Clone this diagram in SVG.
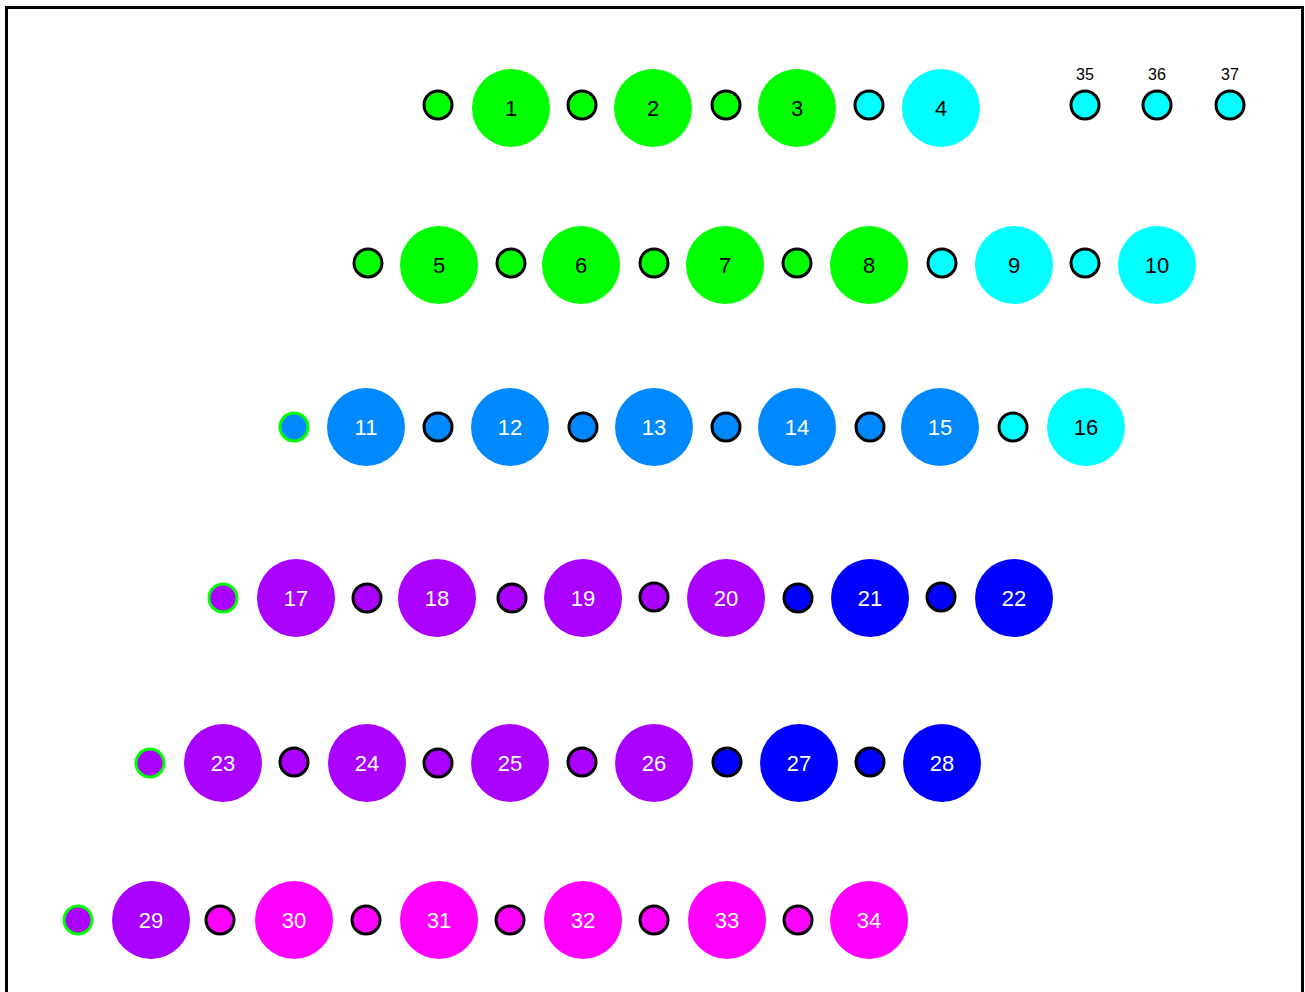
<svg xmlns="http://www.w3.org/2000/svg" width="1305" height="992" viewBox="0 0 1305 992">
<style>
.big{stroke:none}
.sm{stroke:#000;stroke-width:3}
.smg{stroke:#00ff00;stroke-width:3}
.g{fill:#00ff00}.c{fill:#00ffff}.b{fill:#0088ff}.p{fill:#aa00ff}.d{fill:#0000ff}.m{fill:#ff00ff}
text{font-family:"Liberation Sans",Arial,sans-serif;font-size:22px;text-anchor:middle;dominant-baseline:central}
.tw{fill:#fff}.tk{fill:#000}
.lbl{font-size:16px;fill:#000}
</style>
<rect x="6.5" y="7.5" width="1296" height="992" fill="#fff" stroke="#000" stroke-width="3"/>
<g id="connectors"></g>
<g id="row1">
<circle class="sm g" cx="438" cy="105" r="14"/>
<g id="n1"><circle class="big g" cx="511" cy="108" r="39"/><text class="tk" x="511" y="108">1</text></g>
<circle class="sm g" cx="582" cy="105" r="14"/>
<g id="n2"><circle class="big g" cx="653" cy="108" r="39"/><text class="tk" x="653" y="108">2</text></g>
<circle class="sm g" cx="726" cy="105" r="14"/>
<g id="n3"><circle class="big g" cx="797" cy="108" r="39"/><text class="tk" x="797" y="108">3</text></g>
<circle class="sm c" cx="869" cy="105" r="14"/>
<g id="n4"><circle class="big c" cx="941" cy="108" r="39"/><text class="tk" x="941" y="108">4</text></g>
<g id="n35"><circle class="sm c" cx="1085" cy="105" r="14"/><text class="lbl" x="1085" y="74">35</text></g>
<g id="n36"><circle class="sm c" cx="1157" cy="105" r="14"/><text class="lbl" x="1157" y="74">36</text></g>
<g id="n37"><circle class="sm c" cx="1230" cy="105" r="14"/><text class="lbl" x="1230" y="74">37</text></g>
</g>
<g id="row2">
<circle class="sm g" cx="368" cy="263" r="14"/>
<g id="n5"><circle class="big g" cx="439" cy="265" r="39"/><text class="tk" x="439" y="265">5</text></g>
<circle class="sm g" cx="511" cy="263" r="14"/>
<g id="n6"><circle class="big g" cx="581" cy="265" r="39"/><text class="tk" x="581" y="265">6</text></g>
<circle class="sm g" cx="654" cy="263" r="14"/>
<g id="n7"><circle class="big g" cx="725" cy="265" r="39"/><text class="tk" x="725" y="265">7</text></g>
<circle class="sm g" cx="797" cy="263" r="14"/>
<g id="n8"><circle class="big g" cx="869" cy="265" r="39"/><text class="tk" x="869" y="265">8</text></g>
<circle class="sm c" cx="942" cy="263" r="14"/>
<g id="n9"><circle class="big c" cx="1014" cy="265" r="39"/><text class="tk" x="1014" y="265">9</text></g>
<circle class="sm c" cx="1085" cy="263" r="14"/>
<g id="n10"><circle class="big c" cx="1157" cy="265" r="39"/><text class="tk" x="1157" y="265">10</text></g>
</g>
<g id="row3">
<circle class="smg b" cx="294" cy="427" r="14"/>
<g id="n11"><circle class="big b" cx="366" cy="427" r="39"/><text class="tw" x="366" y="427">11</text></g>
<circle class="sm b" cx="438" cy="427" r="14"/>
<g id="n12"><circle class="big b" cx="510" cy="427" r="39"/><text class="tw" x="510" y="427">12</text></g>
<circle class="sm b" cx="583" cy="427" r="14"/>
<g id="n13"><circle class="big b" cx="654" cy="427" r="39"/><text class="tw" x="654" y="427">13</text></g>
<circle class="sm b" cx="726" cy="427" r="14"/>
<g id="n14"><circle class="big b" cx="797" cy="427" r="39"/><text class="tw" x="797" y="427">14</text></g>
<circle class="sm b" cx="870" cy="427" r="14"/>
<g id="n15"><circle class="big b" cx="940" cy="427" r="39"/><text class="tw" x="940" y="427">15</text></g>
<circle class="sm c" cx="1013" cy="427" r="14"/>
<g id="n16"><circle class="big c" cx="1086" cy="427" r="39"/><text class="tk" x="1086" y="427">16</text></g>
</g>
<g id="row4">
<circle class="smg p" cx="223" cy="598" r="14"/>
<g id="n17"><circle class="big p" cx="296" cy="598" r="39"/><text class="tw" x="296" y="598">17</text></g>
<circle class="sm p" cx="367" cy="598" r="14"/>
<g id="n18"><circle class="big p" cx="437" cy="598" r="39"/><text class="tw" x="437" y="598">18</text></g>
<circle class="sm p" cx="512" cy="598" r="14"/>
<g id="n19"><circle class="big p" cx="583" cy="598" r="39"/><text class="tw" x="583" y="598">19</text></g>
<circle class="sm p" cx="654" cy="597" r="14"/>
<g id="n20"><circle class="big p" cx="726" cy="598" r="39"/><text class="tw" x="726" y="598">20</text></g>
<circle class="sm d" cx="798" cy="598" r="14"/>
<g id="n21"><circle class="big d" cx="870" cy="598" r="39"/><text class="tw" x="870" y="598">21</text></g>
<circle class="sm d" cx="941" cy="597" r="14"/>
<g id="n22"><circle class="big d" cx="1014" cy="598" r="39"/><text class="tw" x="1014" y="598">22</text></g>
</g>
<g id="row5">
<circle class="smg p" cx="150" cy="763" r="14"/>
<g id="n23"><circle class="big p" cx="223" cy="763" r="39"/><text class="tw" x="223" y="763">23</text></g>
<circle class="sm p" cx="294" cy="762" r="14"/>
<g id="n24"><circle class="big p" cx="367" cy="763" r="39"/><text class="tw" x="367" y="763">24</text></g>
<circle class="sm p" cx="438" cy="763" r="14"/>
<g id="n25"><circle class="big p" cx="510" cy="763" r="39"/><text class="tw" x="510" y="763">25</text></g>
<circle class="sm p" cx="582" cy="762" r="14"/>
<g id="n26"><circle class="big p" cx="654" cy="763" r="39"/><text class="tw" x="654" y="763">26</text></g>
<circle class="sm d" cx="727" cy="762" r="14"/>
<g id="n27"><circle class="big d" cx="799" cy="763" r="39"/><text class="tw" x="799" y="763">27</text></g>
<circle class="sm d" cx="870" cy="762" r="14"/>
<g id="n28"><circle class="big d" cx="942" cy="763" r="39"/><text class="tw" x="942" y="763">28</text></g>
</g>
<g id="row6">
<circle class="smg p" cx="78" cy="920" r="14"/>
<g id="n29"><circle class="big p" cx="151" cy="920" r="39"/><text class="tw" x="151" y="920">29</text></g>
<circle class="sm m" cx="220" cy="920" r="14"/>
<g id="n30"><circle class="big m" cx="294" cy="920" r="39"/><text class="tw" x="294" y="920">30</text></g>
<circle class="sm m" cx="366" cy="920" r="14"/>
<g id="n31"><circle class="big m" cx="439" cy="920" r="39"/><text class="tw" x="439" y="920">31</text></g>
<circle class="sm m" cx="510" cy="920" r="14"/>
<g id="n32"><circle class="big m" cx="583" cy="920" r="39"/><text class="tw" x="583" y="920">32</text></g>
<circle class="sm m" cx="654" cy="920" r="14"/>
<g id="n33"><circle class="big m" cx="727" cy="920" r="39"/><text class="tw" x="727" y="920">33</text></g>
<circle class="sm m" cx="798" cy="920" r="14"/>
<g id="n34"><circle class="big m" cx="869" cy="920" r="39"/><text class="tw" x="869" y="920">34</text></g>
</g>
</svg>
